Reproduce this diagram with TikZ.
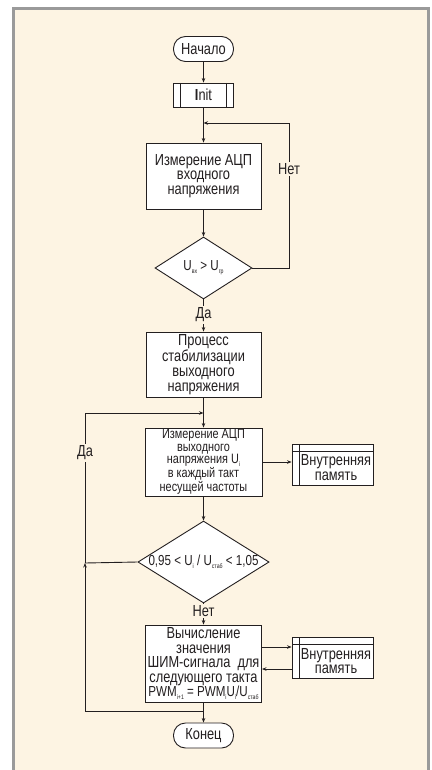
\documentclass[tikz,border=0pt]{standalone}
\usepackage{fontspec}
\setmainfont{Liberation Sans}[FakeStretch=0.8]
\usetikzlibrary{shapes.geometric,arrows.meta}
\definecolor{cream}{HTML}{FDF4E3}
\definecolor{framegray}{HTML}{9A9A9A}
\definecolor{ink}{HTML}{231F20}
\newcommand\fA{\fontsize{16}{14.8}\selectfont}
\newcommand\fB{\fontsize{13.6}{12.5}\selectfont}
\newcommand\fC{\fontsize{14.5}{14}\selectfont}
\newcommand\sbx[1]{\raisebox{-0.35ex}{\fontsize{6.5}{6.5}\selectfont #1}}
\begin{document}
\begin{tikzpicture}[x=1pt,y=-1pt,
  every node/.style={inner sep=0pt, text=ink},
  box/.style={draw=ink, line width=0.9pt, fill=white, rectangle, align=center, font=\fA},
  term/.style={draw=ink, line width=0.9pt, fill=white, rounded corners=12pt, minimum width=60pt, minimum height=25pt, font=\fA},
  dec/.style={draw=ink, line width=0.9pt, fill=white, diamond, aspect=1.6},
  sidebars/.style={path picture={\draw[ink,line width=0.9pt]
      ([xshift=7pt]path picture bounding box.north west) -- ([xshift=7pt]path picture bounding box.south west)
      ([xshift=-7pt]path picture bounding box.north east) -- ([xshift=-7pt]path picture bounding box.south east);}},
  mem/.style={draw=ink, line width=0.9pt, fill=white, rectangle, minimum width=81pt, minimum height=41pt,
    path picture={\draw[ink,line width=0.9pt]
      ([yshift=-7pt]path picture bounding box.north west) -- ([yshift=-7pt]path picture bounding box.north east)
      ([xshift=7pt]path picture bounding box.north west) -- ([xshift=7pt]path picture bounding box.south west);},
    label={[font=\fA,align=center,xshift=3.5pt,yshift=-3pt,text=ink]center:Внутренняя\\память}},
  lbl/.style={fill=cream, inner sep=1.5pt, font=\fA},
  conn/.style={draw=ink, line width=0.9pt},
  arr/.style={conn, -{Stealth[length=4.5pt,width=3.5pt]}}
]
\useasboundingbox (0,0) rectangle (431,770);
\fill[white] (0,0) rectangle (431,770);
\fill[cream] (13,9) rectangle (428,775);
\draw[framegray, line width=3pt] (13,780) -- (13,9) -- (428,9) -- (428,780);

\node[term] (start) at (203.5,49) {Начало};
\node[box, minimum width=60pt, minimum height=24pt, sidebars] (init) at (203.5,95) {\textbf{I}nit};
\node[box, minimum width=115pt, minimum height=66pt] (m1) at (203.5,176) {Измерение АЦП\\входного\\напряжения};
\node[dec, minimum width=97pt, minimum height=62pt, font=\fC] (d1) at (203.5,268) {U\sbx{вх} > U\sbx{гр}};
\node[box, minimum width=115pt, minimum height=65pt] (p) at (203.5,364.5) {Процесс\\стабилизации\\выходного\\напряжения};
\node[box, minimum width=117pt, minimum height=68pt, font=\fB] (m2) at (203.5,462) {Измерение АЦП\\выходного\\напряжения U\sbx{i}\\в каждый такт\\несущей частоты};
\node[mem] (mem1) at (332.5,464.5) {};
\node[dec, minimum width=123pt, minimum height=78pt, font=\fC] (d2) at (203.5,562) {0,95 < U\sbx{i} / U\sbx{стаб} < 1,05};
\node[box, minimum width=116pt, minimum height=77pt, font=\fontsize{16}{14.5}\selectfont] (c) at (203.5,663.5) {Вычисление\\значения\\ШИМ-сигнала\ \ для\\следующего такта\\{\fC PWM\sbx{i+1} = PWM\sbx{i}U\sbx{i}/U\sbx{стаб}}};
\node[mem] (mem2) at (332.5,658) {};
\node[term] (end) at (203.5,735.5) {Конец};

\coordinate (j1) at (203.5,123);
\coordinate (nR) at (289,123);
\coordinate (j2) at (203.5,413);
\coordinate (L1) at (85,413);
\coordinate (L2) at (85,563);
\coordinate (L3) at (85,711);
\coordinate (j3) at (203.5,711);

\draw[arr] (start) -- (init);
\draw[arr] (init) -- (m1);
\draw[arr] (d1.east) -| (nR) -- (j1);
\node[lbl] (net1) at (289,169) {Нет};
\draw[arr] (m1) -- (d1);
\draw[arr] (d1) -- (p);
\node[lbl] (da1) at (203.5,315) {Да};
\draw[arr] (p) -- (m2);
\draw[arr] (j3) -- (L3) -- (L2);
\draw[arr] (L2) -- (L1) -- (j2);
\draw[conn] (d2.west) -- (L2);
\node[lbl] (da2) at (85,453) {Да};
\draw[arr] (m2.east) -- (m2.east -| mem1.west);
\draw[arr] (m2) -- (d2);
\draw[arr] (d2) -- (c);
\node[lbl] (net2) at (203.5,611) {Нет};
\draw[arr] ([yshift=16.5pt]c.east) -- ([yshift=16.5pt]c.east -| mem2.west);
\draw[arr] ([yshift=-11pt]mem2.west) -- ([yshift=-11pt]mem2.west -| c.east);
\draw[arr] (c) -- (end);
\end{tikzpicture}
\end{document}
